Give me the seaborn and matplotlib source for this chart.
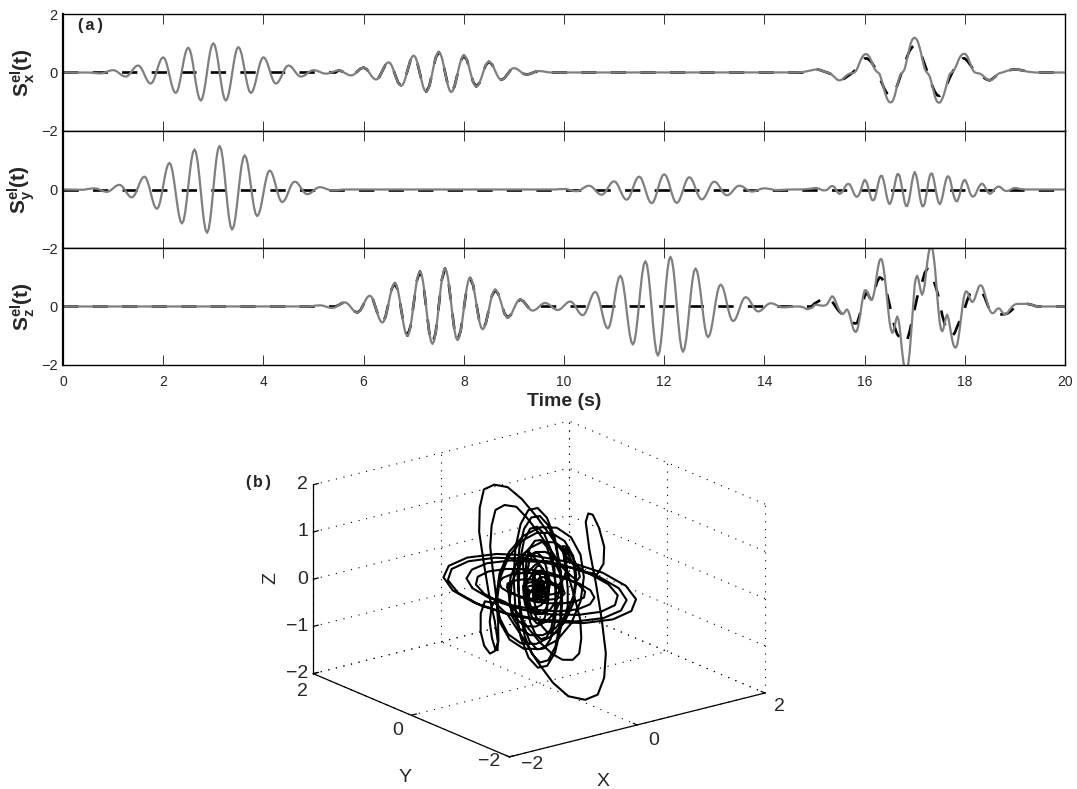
import numpy as np
import seaborn as sns
import matplotlib.pyplot as plt
from mpl_toolkits.mplot3d import proj3d

# Tiempos: paso fino hasta 15 s y luego cada 0.025 s
t = np.concatenate([np.arange(0, 15, 0.03125), 15 + 0.025 * np.arange(201)])

x_gris = [
    0, 0, 0, 0, 0, 0, 0, 0, 0, 0, 0, 0, 0, 0, 0, 0,
    0, -.001, -.004, -.009, -.015, -.021, -.026, -.029,
    -.03, -.026, -.014, .004, .025, .046, .064, .076,
    .08, .072, .048, .012, -.03, -.072, -.108, -.132,
    -.14, -.126, -.085, -.023, .05, .123, .185, .226,
    .24, .216, .149, .048, -.07, -.188, -.289, -.356,
    -.38, -.346, -.249, -.102, .07, .242, .389, .486,
    .52, .474, .342, .143, -.09, -.323, -.522, -.654,
    -.70, -.641, -.474, -.221, .075, .371, .624, .791,
    .85, .781, .586, .291, -.055, -.401, -.696, -.891,
    -.96, -.886, -.674, -.354, .02, .394, .714, .926,
    1.0, .926, .714, .394, .02, -.354, -.674, -.886,
    -.96, -.890, -.693, -.394, -.045, .304, .603, .800,
    .87, .810, .641, .384, .085, -.215, -.471, -.640,
    -.70, -.654, -.522, -.323, -.09, .143, .342, .474,
    .52, .486, .389, .242, .07, -.102, -.249, -.346,
    -.38, -.356, -.289, -.188, -.07, .048, .149, .216,
    .24, .226, .185, .123, .05, -.023, -.085, -.126,
    -.14, -.132, -.108, -.072, -.03, .012, .048, .072,
    .08, .075, .062, .043, .02, -.003, -.022, -.035,
    -.04, -.036, -.024, -.006, .015, .036, .054, .066,
    .07, .064, .045, .017, -.015, -.047, -.075, -.094,
    -.10, -.09, -.061, -.017, .035, .087, .131, .16,
    .17, .154, .11, .043, -.035, -.113, -.18, -.224,
    -.24, -.218, -.154, -.058, .055, .168, .264, .328,
    .35, .319, .232, .10, -.055, -.21, -.342, -.429,
    -.46, -.42, -.308, -.139, .06, .259, .428, .54,
    .58, .533, .399, .197, -.04, -.277, -.479, -.613,
    -.66, -.608, -.461, -.24, .02, .28, .501, .648,
    .70, .648, .50, .277, .015, -.247, -.47, -.618,
    -.67, -.622, -.487, -.284, -.045, .194, .397, .532,
    .58, .54, .425, .252, .05, -.152, -.325, -.44,
    -.48, -.448, -.356, -.218, -.055, .108, .246, .338,
    .37, .346, .279, .178, .06, -.058, -.159, -.226,
    -.25, -.235, -.192, -.127, -.05, .027, .092, .135,
    .15, .142, .118, .082, .04, -.002, -.038, -.062,
    -.07, -.065, -.052, -.033, -.01, .013, .032, .045,
    .05, .048, .043, .035, .025, .015, .007, .002,
    0, 0, 0, 0, 0, 0, 0, 0, 0, 0, 0, 0, 0, 0, 0, 0,
    0, 0, 0, 0, 0, 0, 0, 0, 0, 0, 0, 0, 0, 0, 0, 0,
    0, 0, 0, 0, 0, 0, 0, 0, 0, 0, 0, 0, 0, 0, 0, 0,
    0, 0, 0, 0, 0, 0, 0, 0, 0, 0, 0, 0, 0, 0, 0, 0,
    0, 0, 0, 0, 0, 0, 0, 0, 0, 0, 0, 0, 0, 0, 0, 0,
    0, 0, 0, 0, 0, 0, 0, 0, 0, 0, 0, 0, 0, 0, 0, 0,
    0, 0, 0, 0, 0, 0, 0, 0, 0, 0, 0, 0, 0, 0, 0, 0,
    0, 0, 0, 0, 0, 0, 0, 0, 0, 0, 0, 0, 0, 0, 0, 0,
    0, 0, 0, 0, 0, 0, 0, 0, 0, 0, 0, 0, 0, 0, 0, 0,
    0, 0, 0, 0, 0, 0, 0, 0, 0, 0, 0, 0,
    .003, .005, .007, .01, .015, .02, .03, .04, .05, .06, .073, .085,
    # 15 a 20 s
    .10, .10, .10, .095, .09, .075, .06, .045, .03, .015, .00, -.007, -.02, -.045, -.08, -.12, -.16, -.205, -.24, -.26,
    -.27, -.26, -.24, -.20, -.16, -.125, -.09, -.06, -.04, -.03, -.02, -.015, 0.0, .05, .12, .23, .34, .44, .52, .58,
    .62, .63, .62, .58, .52, .43, .32, .22, .12, .065, .02, -.01, -.05, -.18, -.33, -.49, -.65, -.79, -.90, -.98,
    -1.02, -1.02, -1.0, -.92, -.80, -.63, -.45, -.28, -.14, -.06, -.01, .04, .12, .29, .48, .68, .86, 1.01, 1.12, 1.17,
    1.19, 1.16, 1.10, .99, .85, .67, .47, .28, .12, .04, -.01, -.06, -.14, -.28, -.45, -.63, -.80, -.92, -1.0, -1.03,
    -1.03, -.98, -.90, -.79, -.65, -.49, -.33, -.18, -.05, -.01, .02, .065, .12, .22, .32, .43, .52, .58, .62, .635,
    .64, .61, .55, .45, .34, .225, .12, .05, 0.0, -.01, -.02, -.03, -.04, -.06, -.09, -.13, -.17, -.21, -.24, -.26,
    -.27, -.26, -.24, -.20, -.16, -.11, -.07, -.04, -.02, -.01, 0.0, .015, .03, .045, .06, .07, .08, .09, .10, .10,
    .10, .10, .10, .095, .09, .08, .07, .06, .05, .04, .03, .025, .02, .015, .01, .005, 0, 0, 0, 0,
    0, 0, 0, 0, 0, 0, 0, 0, 0, 0, 0, 0, 0, 0, 0, 0, 0, 0, 0, 0, 0,
]

y_gris = [
    0, 0, 0, 0,
    0, 0, -.001, -.003, -.005, -.007, -.009, -.01,
    -.01, -.008, -.003, .005, .015, .025, .033, .038,
    .04, .035, .022, .003, -.02, -.043, -.062, -.075,
    -.08, -.071, -.045, -.006, .04, .086, .125, .151,
    .16, .144, .097, .027, -.055, -.137, -.207, -.254,
    -.27, -.243, -.166, -.051, .085, .221, .336, .413,
    .44, .398, .279, .10, -.11, -.32, -.499, -.618,
    -.66, -.60, -.431, -.175, .125, .425, .681, .85,
    .91, .831, .608, .268, -.125, -.518, -.858, -1.081,
    -1.16, -1.064, -.79, -.378, .105, .588, 1.0, 1.274,
    1.37, 1.262, .954, .489, -.055, -.599, -1.064, -1.372,
    -1.48, -1.367, -1.046, -.562, .005, .572, 1.056, 1.377,
    1.49, 1.381, 1.072, .606, .06, -.486, -.952, -1.261,
    -1.37, -1.273, -.999, -.585, -.10, .385, .799, 1.073,
    1.17, 1.091, .867, .527, .13, -.267, -.607, -.831,
    -.91, -.851, -.682, -.428, -.13, .168, .422, .591,
    .65, .609, .492, .316, .11, -.096, -.272, -.389,
    -.43, -.403, -.328, -.214, -.08, .054, .168, .243,
    .27, .254, .207, .137, .055, -.027, -.097, -.144,
    -.16, -.151, -.125, -.086, -.04, .006, .045, .071,
    .08, .076, .064, .046, .025, .004, -.014, -.026,
    -.03, -.029, -.026, -.021, -.015, -.009, -.004, -.001,
    0, 0, 0, 0, 0, 0, 0, 0, 0, 0, 0, 0, 0, 0, 0, 0,
    0, 0, 0, 0, 0, 0, 0, 0, 0, 0, 0, 0, 0, 0, 0, 0,
    0, 0, 0, 0, 0, 0, 0, 0, 0, 0, 0, 0, 0, 0, 0, 0,
    0, 0, 0, 0, 0, 0, 0, 0, 0, 0, 0, 0, 0, 0, 0, 0,
    0, 0, 0, 0, 0, 0, 0, 0, 0, 0, 0, 0, 0, 0, 0, 0,
    0, 0, 0, 0, 0, 0, 0, 0, 0, 0, 0, 0, 0, 0, 0, 0,
    0, 0, 0, 0, 0, 0, 0, 0, 0, 0, 0, 0, 0, 0, 0, 0,
    0, 0, 0, 0, 0, 0, 0, 0, 0, 0, 0, 0, 0, 0, 0, 0,
    0, 0, 0, 0, 0, 0, 0, 0,
    .01, .012, .015, .018,
    .02, .017, .008, -.005, -.02, -.035, -.048, -.057,
    -.06, -.053, -.032, -.001, .035, .071, .102, .123,
    .13, .118, .085, .034, -.025, -.084, -.135, -.168,
    -.18, -.163, -.113, -.038, .05, .138, .213, .263,
    .28, .256, .188, .085, -.035, -.155, -.258, -.326,
    -.35, -.32, -.235, -.106, .045, .196, .325, .41,
    .44, .405, .307, .159, -.015, -.189, -.337, -.435,
    -.47, -.432, -.325, -.164, .025, .214, .375, .482,
    .52, .483, .377, .219, .03, -.159, -.317, -.423,
    -.46, -.427, -.332, -.188, -.02, .148, .292, .387,
    .42, .391, .309, .185, .04, -.105, -.229, -.311,
    -.34, -.317, -.251, -.151, -.035, .081, .181, .247,
    .27, .252, .201, .125, .035, -.055, -.131, -.182,
    -.2, -.187, -.152, -.098, -.035, .028, .082, .117,
    .13, .122, .101, .068, .03, -.008, -.041, -.062,
    -.07, -.066, -.054, -.036, -.015, .006, .024, .036,
    .04, .038, .031, .021, .01, -.001, -.011, -.018,
    -.02, -.019, -.017, -.014, -.01, -.006, -.003, -.001,
    0, 0, 0, 0, 0, 0, 0, 0, .003, .006, .01, .015, .02, .025, .03, .04,
    # 15 a 20 s
    .05, .055, .05, .035, .02, 0, -.02, -.03, -.03, -.025, -.01, .03, .07, .105, .12, .11, .08, .005, -.07, -.12,
    -.15, -.13, -.09, -.02, .06, .13, .18, .19, .18, .11, .02, -.09, -.18, -.235, -.25, -.21, -.14, -.01, .13, .25,
    .33, .29, .20, .04, -.12, -.27, -.36, -.37, -.32, -.17, .02, .23, .40, .47, .46, .33, .15, -.09, -.30, -.44,
    -.50, -.43, -.30, -.08, .15, .37, .52, .53, .46, .26, .02, -.23, -.44, -.56, -.57, -.44, -.24, .04, .30, .50,
    .60, .51, .34, .07, -.22, -.44, -.57, -.57, -.48, -.25, .02, .27, .46, .55, .54, .39, .18, -.07, -.28, -.44,
    -.50, -.43, -.28, -.07, .16, .33, .44, .45, .38, .21, 0, -.19, -.32, -.40, -.40, -.30, -.16, .03, .20, .30,
    .33, .27, .17, .03, -.10, -.19, -.24, -.24, -.20, -.12, -.02, .07, .14, .19, .20, .16, .10, .02, -.06, -.12,
    -.15, -.13, -.09, -.03, .02, .06, .09, .10, .09, .06, .02, -.02, -.04, -.05, -.05, -.04, -.02, .005, .03, .045,
    .05, .05, .04, .03, .02, .015, .01, .005, 0, 0, 0, 0, 0, 0, 0, 0, 0, 0, 0, 0,
    0, 0, 0, 0, 0, 0, 0, 0, 0, 0, 0, 0, 0, 0, 0, 0, 0, 0, 0, 0, 0,
]

z_gris = [
    0, 0, 0, 0, 0, 0, 0, 0, 0, 0, 0, 0, 0, 0, 0, 0,
    0, 0, 0, 0, 0, 0, 0, 0, 0, 0, 0, 0, 0, 0, 0, 0,
    0, 0, 0, 0, 0, 0, 0, 0, 0, 0, 0, 0, 0, 0, 0, 0,
    0, 0, 0, 0, 0, 0, 0, 0, 0, 0, 0, 0, 0, 0, 0, 0,
    0, 0, 0, 0, 0, 0, 0, 0, 0, 0, 0, 0, 0, 0, 0, 0,
    0, 0, 0, 0, 0, 0, 0, 0, 0, 0, 0, 0, 0, 0, 0, 0,
    0, 0, 0, 0, 0, 0, 0, 0, 0, 0, 0, 0, 0, 0, 0, 0,
    0, 0, 0, 0, 0, 0, 0, 0, 0, 0, 0, 0, 0, 0, 0, 0,
    0, 0, 0, 0, 0, 0, 0, 0, 0, 0, 0, 0, 0, 0, 0, 0,
    0, 0, 0, 0, 0, 0, 0, 0, 0, 0, 0, 0,
    0, .002, .006, .012, .02, .028, .034, .038,
    .04, .037, .027, .012, -.005, -.022, -.037, -.047,
    -.05, -.043, -.022, .009, .045, .081, .112, .133,
    .14, .127, .089, .032, -.035, -.102, -.159, -.197,
    -.21, -.188, -.125, -.03, .08, .19, .285, .348,
    .37, .335, .236, .086, -.09, -.266, -.416, -.515,
    -.55, -.499, -.353, -.133, .125, .383, .603, .749,
    .8, .732, .537, .244, -.10, -.444, -.737, -.932,
    -1.0, -.916, -.679, -.32, .10, .52, .879, 1.116,
    1.2, 1.106, .838, .433, -.04, -.513, -.918, -1.186,
    -1.28, -1.182, -.903, -.483, .01, .503, .923, 1.202,
    1.3, 1.207, .942, .543, .075, -.393, -.792, -1.057,
    -1.15, -1.069, -.839, -.492, -.085, .322, .669, .899,
    .98, .913, .723, .436, .10, -.236, -.523, -.713,
    -.78, -.729, -.583, -.363, -.105, .153, .373, .519,
    .57, .534, .431, .276, .095, -.086, -.241, -.344,
    -.38, -.356, -.289, -.188, -.07, .048, .149, .216,
    .24, .226, .185, .123, .05, -.023, -.085, -.126,
    -.14, -.13, -.102, -.06, -.01, .04, .082, .11,
    .12, .111, .085, .046, 0, -.046, -.085, -.111,
    -.12, -.109, -.078, -.03, .025, .08, .128, .159,
    .17, .152, .101, .024, -.065, -.154, -.231, -.282,
    -.3, -.27, -.183, -.053, .10, .253, .383, .47,
    .5, .453, .318, .114, -.125, -.364, -.568, -.703,
    -.75, -.682, -.487, -.194, .15, .494, .787, .982,
    1.05, .961, .707, .324, -.125, -.574, -.957, -1.211,
    -1.3, -1.192, -.884, -.419, .125, .669, 1.134, 1.442,
    1.55, 1.427, 1.078, .552, -.065, -.682, -1.208, -1.557,
    -1.68, -1.552, -1.187, -.636, .01, .656, 1.207, 1.572,
    1.7, 1.577, 1.226, .696, .075, -.546, -1.076, -1.427,
    -1.55, -1.442, -1.134, -.669, -.125, .419, .884, 1.192,
    1.3, 1.211, .957, .574, .125, -.324, -.707, -.961,
    -1.05, -.982, -.787, -.494, -.15, .194, .487, .682,
    .75, .703, .568, .364, .125, -.114, -.318, -.453,
    -.5, -.469, -.38, -.247, -.09, .067, .2, .289,
    .32, .301, .247, .168, .075, -.018, -.097, -.151,
    -.17, -.159, -.129, -.083, -.03, .023, .069, .099,
    .11, .105, .09, .067, .04, .013, -.01, -.025,
    -.03, -.029, -.026, -.021, -.015, -.009, -.004, -.001,
    0, 0, 0, -.005, -.015, -.03, -.06, -.09, -.09, -.07, -.05, -.02,
    # 15 a 20 s
    .05, .055, .06, .05, .04, .035, .03, .03, .03, .05, .08, .14, .22, .30, .35, .33, .26, .15, .03, -.06,
    -.14, -.21, -.26, -.25, -.2, -.13, -.1, -.16, -.28, -.45, -.62, -.76, -.85, -.87, -.82, -.65, -.42, -.14, .15, .38,
    .55, .56, .50, .39, .30, .23, .23, .36, .55, .85, 1.15, 1.40, 1.58, 1.63, 1.58, 1.36, 1.05, .66, .25, -.17,
    -.55, -.78, -.90, -.86, -.70, -.47, -.34, -.44, -.70, -1.12, -1.55, -1.90, -2.12, -2.2, -2.15, -1.92, -1.55, -1.0, -.40, .22,
    .75, .98, 1.05, .93, .70, .50, .40, .52, .75, 1.12, 1.5, 1.8, 2.0, 2.06, 2.02, 1.76, 1.4, .9, .35, -.15,
    -.55, -.78, -.85, -.75, -.55, -.36, -.28, -.42, -.65, -.92, -1.15, -1.32, -1.40, -1.40, -1.30, -1.06, -.75, -.40, -.05, .24,
    .45, .52, .50, .40, .28, .19, .15, .19, .28, .41, .55, .66, .72, .72, .68, .57, .42, .27, .12, -.02,
    -.14, -.20, -.23, -.22, -.18, -.12, -.08, -.06, -.08, -.14, -.2, -.25, -.27, -.26, -.22, -.16, -.1, -.05, 0.0, .04,
    .07, .08, .09, .09, .09, .09, .09, .09, .09, .09, .09, .08, .07, .06, .05, .035, .02, .01, 0, 0,
    0, 0, 0, 0, 0, 0, 0, 0, 0, 0, 0, 0, 0, 0, 0, 0, 0, 0, 0, 0, 0,
]

# Curva negra a trazos en el tramo final (15 a 20 s, cada 0.05 s)
x_trazos_fin = [
    .10, .10, .09, .06, .03, 0, -.03, -.08, -.15, -.22,
    -.27, -.25, -.20, -.14, -.08, -.02, .06, .16, .28, .40,
    .48, .48, .42, .32, .18, 0, -.18, -.38, -.58, -.72,
    -.80, -.78, -.65, -.45, -.20, .05, .30, .55, .75, .87,
    .90, .85, .72, .52, .28, .04, -.20, -.45, -.65, -.78,
    -.80, -.72, -.58, -.38, -.18, 0, .18, .32, .42, .48,
    .48, .40, .28, .16, .06, -.02, -.08, -.14, -.20, -.25,
    -.27, -.22, -.15, -.08, -.03, 0, .03, .06, .08, .10,
    .10, .10, .09, .07, .05, .03, .02, .01, 0, 0,
    0, 0, 0, 0, 0, 0, 0, 0, 0, 0, 0,
]
z_trazos_fin = [
    .10, .15, .20, .25, .28, .30, .28, .18, .05, -.08,
    -.18, -.26, -.32, -.38, -.46, -.54, -.58, -.57, -.30, .05,
    .35, .49, .30, .25, .55, .85, 1.0, .95, .75, .42,
    .05, -.35, -.70, -.95, -1.05, -1.18, -1.27, -1.15, -.85, -.45,
    -.08, .32, .60, .85, 1.15, 1.29, 1.25, 1.05, .78, .5,
    .15, -.3, -.6, -.82, -.95, -1.0, -.9, -.68, -.48, -.28,
    -.05, .22, .42, .50, .48, .48, .49, .48, .30, .08,
    -.14, -.20, -.25, -.27, -.27, -.27, -.26, -.24, -.18, -.10,
    -.03, .02, .05, .07, .08, .09, .07, .05, .02, 0,
    0, 0, 0, 0, 0, 0, 0, 0, 0, 0, 0,
]
t_plano = [0, 20]
y_trazos = [0, 0]

x_ticks = [0, 2, 4, 6, 8, 10, 12, 14, 16, 18, 20]
ticks_3d = [-2, 0, 2]
ticks_z = [-2, -1, 0, 1, 2]

W, H = 1077, 789
GRIS = "#7f7f7f"


def caja(izq, arriba, der, abajo):
    return [izq / W, 1 - abajo / H, (der - izq) / W, (abajo - arriba) / H]


sns.set_style("white")
plt.rcParams["font.family"] = ["Liberation Sans"]
plt.rcParams["mathtext.fontset"] = "custom"
plt.rcParams["mathtext.bf"] = "Liberation Sans:bold"
plt.rcParams["mathtext.rm"] = "Liberation Sans"

fig = plt.figure(figsize=(W / 100, H / 100), dpi=100)

x_gris = np.array(x_gris)
y_gris = np.array(y_gris)
z_gris = np.array(z_gris)

# La curva a trazos va con la mitad de puntos: entre 5.5 y 9.5 s sigue a la gris,
# fuera de ahi esta en cero
t_trazos = t[::2]
x_trazos = np.zeros(len(t_trazos))
x_trazos[88:152] = x_gris[::2][88:152]
x_trazos[240:] = x_trazos_fin
z_trazos = np.zeros(len(t_trazos))
z_trazos[88:152] = z_gris[::2][88:152]
z_trazos[240:] = z_trazos_fin

trazo = (0, (5.8, 5.4))
paneles = [
    (14, 131, x_trazos, x_gris, r"$\mathbf{S_x^{el}(t)}$", ["2", "0", "\u22122"]),
    (131, 248, None, y_gris, r"$\mathbf{S_y^{el}(t)}$", ["", "0", "\u22122"]),
    (248, 365, z_trazos, z_gris, r"$\mathbf{S_z^{el}(t)}$", ["", "0", "\u22122"]),
]

for i, (arriba, abajo, negra, gris, etiqueta, ylabels) in enumerate(paneles):
    ax = fig.add_axes(caja(63, arriba, 1065, abajo))
    if negra is None:
        sns.lineplot(x=t_plano, y=y_trazos, ax=ax, color="black", lw=1.9, linestyle=trazo, estimator=None)
    else:
        sns.lineplot(x=t_trazos, y=negra, ax=ax, color="black", lw=1.9, linestyle=trazo, estimator=None)
    sns.lineplot(x=t, y=gris, ax=ax, color=GRIS, lw=1.6, estimator=None)
    ax.set_xlim(0, 20)
    ax.set_ylim(-2, 2)
    ax.set_xticks(x_ticks)
    ax.set_yticks([2, 0, -2])
    ax.set_yticklabels(ylabels)
    ax.tick_params(axis="x", direction="in", length=7, width=0.7, top=True, bottom=True,
                   color="#333333", labelsize=10, pad=7)
    ax.tick_params(axis="y", direction="in", length=0, labelsize=10.5, pad=4)
    if i < 2:
        ax.set_xticklabels([])
    for lado in ax.spines:
        ax.spines[lado].set_linewidth(1.0)
        ax.spines[lado].set_color("black")
    ax.spines["left"].set_linewidth(1.6)
    ax.set_ylabel(etiqueta, fontsize=15, fontweight="bold")
    ax.yaxis.set_label_coords(-0.026, 0.5)
    if i == 0:
        ax.text(0.012, 0.865, "(a)", transform=ax.transAxes, family="Liberation Mono",
                fontweight="bold", fontsize=12)
    if i == 2:
        ax.set_xlabel("Time (s)", fontsize=14, fontweight="bold")
        ax.xaxis.set_label_coords(0.5, -0.24)

# Parte (b): trayectoria en 3D
ax3 = fig.add_axes(caja(231, 297, 831, 897), projection="3d")
ax3.set_proj_type("ortho")
ax3.view_init(elev=19, azim=-127.5)
ax3.set_xlim(-2, 2)
ax3.set_ylim(-2, 2)
ax3.set_zlim(-2, 2)
ax3.set_box_aspect((1, 1, 0.62), zoom=0.805)
ax3.set_axis_off()
ax3.patch.set_alpha(0)

punteada = dict(color="black", lw=0.8, linestyle=(0, (1, 6)))
for v in ticks_3d:
    ax3.plot([v, v], [-2, 2], [-2, -2], **punteada)
    ax3.plot([v, v], [2, 2], [-2, 2], **punteada)
    ax3.plot([-2, 2], [v, v], [-2, -2], **punteada)
    ax3.plot([2, 2], [v, v], [-2, 2], **punteada)
for v in ticks_z:
    ax3.plot([-2, 2], [2, 2], [v, v], **punteada)
    ax3.plot([2, 2], [-2, 2], [v, v], **punteada)

ax3.plot(x_gris, y_gris, z_gris, color="black", lw=1.5)

ejes = dict(color="black", lw=0.9)
ax3.plot([-2, -2], [2, 2], [-2, 2], **ejes)
ax3.plot([-2, -2], [-2, 2], [-2, -2], **ejes)
ax3.plot([-2, 2], [-2, -2], [-2, -2], **ejes)
for v in ticks_z:
    ax3.plot([-2, -1.92], [2, 2], [v, v], **ejes)
for v in ticks_3d:
    ax3.plot([-2, -1.92], [v, v], [-2, -2], **ejes)
    ax3.plot([v, v], [-2, -1.92], [-2, -2], **ejes)


def rotulo(x, y, z, texto, dx, dy, ha="center"):
    px, py, _ = proj3d.proj_transform(x, y, z, ax3.get_proj())
    ax3.annotate(texto, (px, py), xytext=(dx, dy), textcoords="offset pixels", fontsize=14,
                 ha=ha, va="center", annotation_clip=False)


for v, lab in zip(ticks_z, ["\u22122", "\u22121", "0", "1", "2"]):
    rotulo(-2, 2, v, lab, -5, 0, ha="right")
for v, lab, d in zip(ticks_3d, ["\u22122", "0", "2"], [(-20, -5), (-14, -15), (-11, -18)]):
    rotulo(-2, v, -2, lab, d[0], d[1])
for v, lab, d in zip(ticks_3d, ["\u22122", "0", "2"], [(23, -8), (17, -16), (14, -13)]):
    rotulo(v, -2, -2, lab, d[0], d[1])

fig.text(271 / W, 1 - 578 / H, "Z", fontsize=14, rotation=90, ha="center", va="center")
fig.text(405 / W, 1 - 777 / H, "Y", fontsize=14, ha="center", va="center")
fig.text(603 / W, 1 - 781 / H, "X", fontsize=14, ha="center", va="center")
fig.text(258 / W, 1 - 482 / H, "(b)", family="Liberation Mono", fontweight="bold", fontsize=12,
         ha="center", va="center")

fig.savefig("out.png", dpi=100)
